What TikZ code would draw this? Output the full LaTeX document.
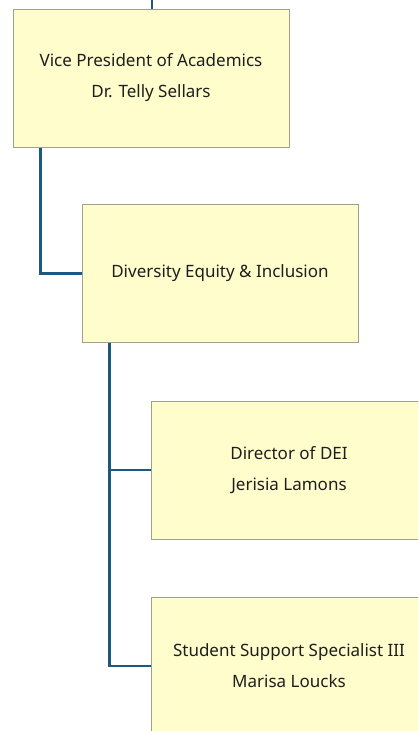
\documentclass[tikz,border=0pt]{standalone}
\usepackage{fontspec}
\setmainfont{Noto Sans}
\definecolor{boxfill}{RGB}{255,253,204}
\definecolor{boxline}{RGB}{160,160,140}
\definecolor{conn}{RGB}{30,88,128}
\definecolor{txt}{RGB}{30,30,30}
\begin{document}
\begin{tikzpicture}[x=1pt,y=-1pt,
  orgbox/.style={draw=boxline, line width=1pt, fill=boxfill, minimum width=276pt, minimum height=138pt,
    inner sep=0pt, align=center, text=txt, font=\fontsize{17}{31}\selectfont},
  link/.style={draw=conn, line width=2.6pt}]
\useasboundingbox (0,0) rectangle (418,731);
\clip (0,0) rectangle (418,731);
\coordinate (top) at (152,0);
\node[orgbox] (vp) at (151,78) {Vice President of Academics\\Dr. Telly Sellars};
\node[orgbox] (dei) at (220,273.5) {Diversity Equity \& Inclusion};
\node[orgbox] (dir) at (289,470) {Director of DEI\\Jerisia Lamons};
\node[orgbox] (ssp) at (289,666) {Student Support Specialist III\\Marisa Loucks};
\draw[link] ([xshift=28pt]vp.south west) |- (dei.west);
\draw[link] ([xshift=28pt]dei.south west) |- (dir.west);
\draw[link] ([xshift=28pt]dei.south west) |- (ssp.west);
\draw[link] (vp.north -| top) -- (top);
\end{tikzpicture}
\end{document}
